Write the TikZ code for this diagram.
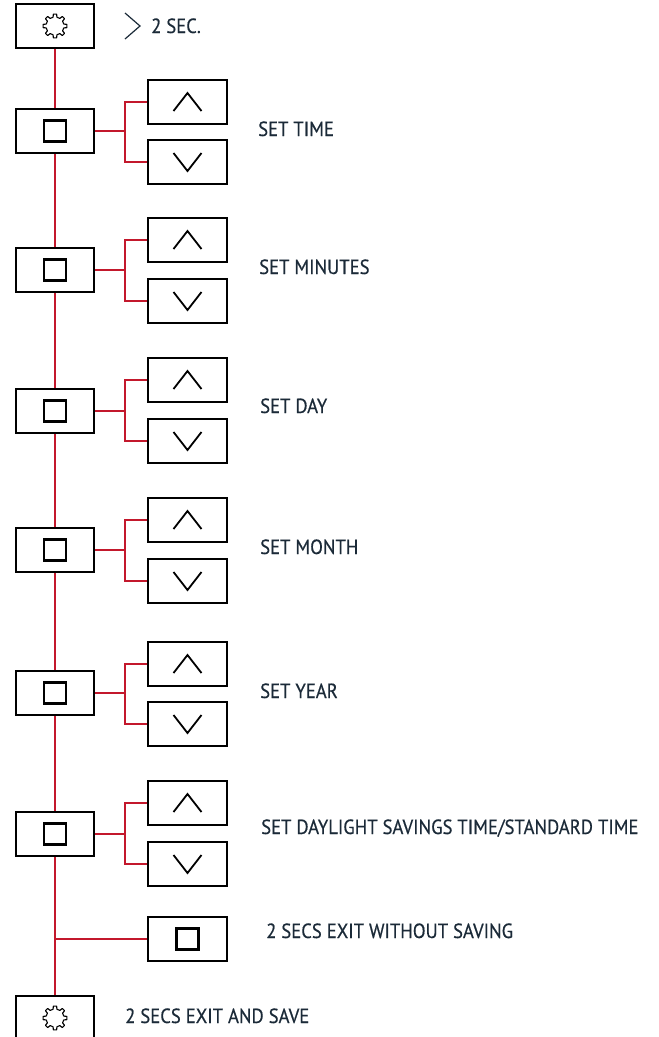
\documentclass[tikz,border=0pt]{standalone}
\usepackage{fontspec}
\setmainfont[FakeStretch=0.91, FakeBold=0.5]{PT Sans}
\definecolor{linkred}{HTML}{C3182C}
\definecolor{labelblue}{HTML}{1B2A38}
\tikzset{
  key/.style={draw=black, line width=1.5pt, fill=white, minimum height=44pt, inner sep=0pt},
  mainkey/.style={key, minimum width=78pt},
  sidekey/.style={key, minimum width=79pt},
  sqkey/.style={path picture={\draw[line width=2.8pt]
      ([shift={(-11pt,-10.5pt)}]path picture bounding box.center) rectangle ++(22pt,21pt);}},
  upkey/.style={path picture={\draw[line width=1.8pt]
      ([shift={(-14pt,-9pt)}]path picture bounding box.center) -- ++(14pt,18pt) -- ++(14pt,-18pt);}},
  downkey/.style={path picture={\draw[line width=1.8pt]
      ([shift={(-14pt,9pt)}]path picture bounding box.center) -- ++(14pt,-18pt) -- ++(14pt,18pt);}},
  gearkey/.style={path picture={\draw[line width=1.1pt, line join=round, shift={(path picture bounding box.center)}]
      (-12:9pt) \foreach \a in {0,45,...,315} {
        -- (\a-8:12pt) -- (\a+8:12pt) -- (\a+12:9pt) arc[start angle=\a+12, end angle=\a+33, radius=9pt]
      } -- cycle;}},
  link/.style={draw=linkred, line width=2.4pt},
  label/.style={anchor=base west, inner sep=0pt, text=labelblue, font=\fontsize{20.5}{24}\selectfont}
}
\begin{document}
\begin{tikzpicture}[x=1pt, y=-1pt]
  \useasboundingbox (0,0) rectangle (659,1037);
  \clip (0,0) rectangle (659,1037);

  %% trunk
  \node[mainkey, gearkey] (start) at (55,26) {};
  \node[mainkey, sqkey] (m1) at (55,131) {};
  \node[mainkey, sqkey] (m2) at (55,270) {};
  \node[mainkey, sqkey] (m3) at (55,411) {};
  \node[mainkey, sqkey] (m4) at (55,550) {};
  \node[mainkey, sqkey] (m5) at (55,693) {};
  \node[mainkey, sqkey] (m6) at (55,834) {};
  \node[mainkey, gearkey] (save) at (55,1018) {};
  \draw[link] (start.south) -- (m1.north);
  \draw[link] (m1.south) -- (m2.north);
  \draw[link] (m2.south) -- (m3.north);
  \draw[link] (m3.south) -- (m4.north);
  \draw[link] (m4.south) -- (m5.north);
  \draw[link] (m5.south) -- (m6.north);
  \draw[link] (m6.south) -- (save.north);

  %% up / down keys
  \node[sidekey, upkey] (u1) at (187.5,102) {};
  \node[sidekey, downkey] (d1) at (187.5,162) {};
  \node[sidekey, upkey] (u2) at (187.5,240) {};
  \node[sidekey, downkey] (d2) at (187.5,301) {};
  \node[sidekey, upkey] (u3) at (187.5,380) {};
  \node[sidekey, downkey] (d3) at (187.5,441) {};
  \node[sidekey, upkey] (u4) at (187.5,520) {};
  \node[sidekey, downkey] (d4) at (187.5,581) {};
  \node[sidekey, upkey] (u5) at (187.5,664) {};
  \node[sidekey, downkey] (d5) at (187.5,724) {};
  \node[sidekey, upkey] (u6) at (187.5,803) {};
  \node[sidekey, downkey] (d6) at (187.5,864) {};
  \node[sidekey, sqkey] (quit) at (187.5,939) {};

  %% branches
  \coordinate (j1) at (125,131);
  \coordinate (j2) at (125,270);
  \coordinate (j3) at (125,411);
  \coordinate (j4) at (125,550);
  \coordinate (j5) at (125,693);
  \coordinate (j6) at (125,834);
  \coordinate (j7) at (55,939);
  \draw[link] (m1.east) -- (j1);  \draw[link] (u1.west) -| (j1) |- (d1.west);
  \draw[link] (m2.east) -- (j2);  \draw[link] (u2.west) -| (j2) |- (d2.west);
  \draw[link] (m3.east) -- (j3);  \draw[link] (u3.west) -| (j3) |- (d3.west);
  \draw[link] (m4.east) -- (j4);  \draw[link] (u4.west) -| (j4) |- (d4.west);
  \draw[link] (m5.east) -- (j5);  \draw[link] (u5.west) -| (j5) |- (d5.west);
  \draw[link] (m6.east) -- (j6);  \draw[link] (u6.west) -| (j6) |- (d6.west);
  \draw[link] (j7) -- (quit.west);

  %% labels
  \node[label] (hold) at (151,33) {2 SEC.};
  \draw[labelblue, line width=1.2pt] ([shift={(-26pt,20pt)}]hold.base west) -- ++(15pt,-13pt) -- ++(-15pt,-13pt);
  \node[label] (t1) at (258,136) {SET TIME};
  \node[label] (t2) at (259,274) {SET MINUTES};
  \node[label] (t3) at (260,413) {SET DAY};
  \node[label] (t4) at (260,554) {SET MONTH};
  \node[label] (t5) at (260,698) {SET YEAR};
  \node[label] (t6) at (261,834) {SET DAYLIGHT SAVINGS TIME/STANDARD TIME};
  \node[label] (t7) at (266,938) {2 SECS EXIT WITHOUT SAVING};
  \node[label] (t8) at (125,1023) {2 SECS EXIT AND SAVE};
\end{tikzpicture}
\end{document}
